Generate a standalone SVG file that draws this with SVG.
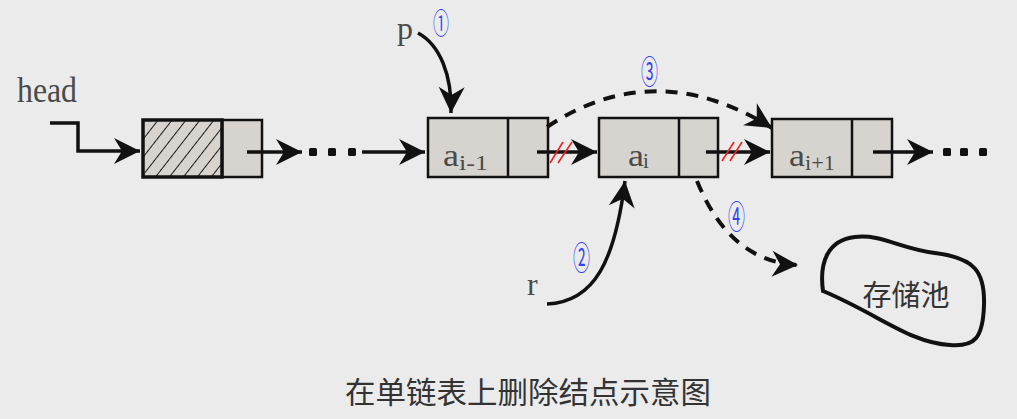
<svg xmlns="http://www.w3.org/2000/svg" width="1017" height="419" viewBox="0 0 1017 419">
<defs>
<style>
.box{fill:#d7d4cf;stroke:#111;stroke-width:2.5}
.ln{fill:none;stroke:#111;stroke-width:3.5}
.dash{fill:none;stroke:#111;stroke-width:4;stroke-dasharray:12 9}
.red{stroke:#ee2222;stroke-width:1.6}
.lbl{font-family:"Liberation Serif",serif;fill:#4a4a4a}
.num{font-family:"Noto Sans CJK SC",sans-serif;fill:#3344ee;font-size:33px}
.cjk{font-family:"Noto Sans CJK SC",sans-serif;fill:#333}
.dot{fill:#111}
</style>
<marker id="ah" viewBox="-28 -15 30 30" refX="0" refY="0" markerWidth="30" markerHeight="30" markerUnits="userSpaceOnUse" orient="auto">
<path d="M0,0 L-26,-13 L-18,0 L-26,13 Z" fill="#111"/>
</marker>
<pattern id="hatch" patternUnits="userSpaceOnUse" width="11" height="11" patternTransform="rotate(38)">
<line x1="0" y1="0" x2="0" y2="11" stroke="#1a1a1a" stroke-width="2"/>
</pattern>
</defs>
<rect width="1017" height="419" fill="#ebebeb"/>

<g id="head-label"><text class="lbl" x="17" y="102" font-size="36" textLength="60" lengthAdjust="spacingAndGlyphs">head</text></g>

<g id="node-head">
<rect class="box" x="222" y="120" width="40" height="57"/>
<rect x="143" y="120" width="79" height="57" fill="#d7d4cf"/>
<rect x="143" y="120" width="79" height="57" fill="url(#hatch)" stroke="#111" stroke-width="3.5"/>
</g>

<g id="node-ai-1">
<rect class="box" x="428" y="118" width="120" height="59"/>
<line x1="508" y1="118" x2="508" y2="177" stroke="#111" stroke-width="2.5"/>
<text class="lbl" x="443" y="166" font-size="32" textLength="16" lengthAdjust="spacingAndGlyphs">a</text>
<text class="lbl" x="459" y="170" font-size="21" textLength="29" lengthAdjust="spacingAndGlyphs">i-1</text>
</g>

<g id="node-ai">
<rect class="box" x="599" y="118" width="119" height="59"/>
<line x1="679" y1="118" x2="679" y2="177" stroke="#111" stroke-width="2.5"/>
<text class="lbl" x="628" y="166" font-size="32" textLength="16" lengthAdjust="spacingAndGlyphs">a</text>
<text class="lbl" x="643" y="168" font-size="21">i</text>
</g>

<g id="node-ai+1">
<rect class="box" x="772" y="119" width="120" height="58"/>
<line x1="852" y1="119" x2="852" y2="177" stroke="#111" stroke-width="2.5"/>
<text class="lbl" x="789" y="166" font-size="32" textLength="16" lengthAdjust="spacingAndGlyphs">a</text>
<text class="lbl" x="805" y="170" font-size="21" textLength="30" lengthAdjust="spacingAndGlyphs">i+1</text>
</g>

<g id="pool">
<path d="M823,291 C819,262 828,240 855,237 C882,234 898,248 935,253 C975,258 985,272 984,305 C983,338 975,347 950,345 C910,343 878,314 823,291 Z" fill="none" stroke="#111" stroke-width="4"/>
<text class="cjk" x="906" y="306" font-size="29" text-anchor="middle">存储池</text>
</g>

<g id="labels">
<text class="lbl" x="397" y="39" font-size="32" textLength="16" lengthAdjust="spacingAndGlyphs">p</text>
<text class="lbl" x="527" y="295" font-size="32">r</text>
<text class="num" x="433" y="34" font-size="28" style="font-size:28px" textLength="16" lengthAdjust="spacingAndGlyphs">①</text>
<text class="num" x="573" y="270" textLength="17" lengthAdjust="spacingAndGlyphs">②</text>
<text class="num" x="641" y="84" textLength="17" lengthAdjust="spacingAndGlyphs">③</text>
<text class="num" x="728" y="229" textLength="17" lengthAdjust="spacingAndGlyphs">④</text>
</g>

<g id="connectors">
<path class="ln" d="M50,123 H78 V151 H140" marker-end="url(#ah)"/>
<path class="ln" d="M247,152 H302" marker-end="url(#ah)"/>
<rect class="dot" x="309" y="148" width="8" height="8" rx="1.5"/>
<rect class="dot" x="328" y="148" width="8" height="8" rx="1.5"/>
<rect class="dot" x="348" y="148" width="8" height="8" rx="1.5"/>
<path class="ln" d="M362,152 H425" marker-end="url(#ah)"/>
<path class="ln" d="M537,152 H597" marker-end="url(#ah)"/>
<line class="red" x1="550" y1="163" x2="563" y2="142"/>
<line class="red" x1="558" y1="163" x2="572" y2="142"/>
<path class="ln" d="M706,152 H770" marker-end="url(#ah)"/>
<line class="red" x1="722" y1="161" x2="734" y2="142"/>
<line class="red" x1="730" y1="161" x2="742" y2="142"/>
<path class="ln" d="M873,152 H933" marker-end="url(#ah)"/>
<rect class="dot" x="943" y="148" width="8" height="8" rx="1.5"/>
<rect class="dot" x="960" y="148" width="8" height="8" rx="1.5"/>
<rect class="dot" x="979" y="148" width="8" height="8" rx="1.5"/>
<path class="ln" d="M418,33 C440,45 452,75 451,113" marker-end="url(#ah)"/>
<path class="ln" d="M547,304 C595,302 615,260 625,181" marker-end="url(#ah)"/>
<path class="dash" d="M547,127 Q655,55 772,128" marker-end="url(#ah)"/>
<path class="dash" d="M697,181 Q730,262 798,265" marker-end="url(#ah)"/>
</g>

<g id="title"><text class="cjk" x="528" y="403" font-size="30" text-anchor="middle" textLength="366" lengthAdjust="spacingAndGlyphs">在单链表上删除结点示意图</text></g>
</svg>
